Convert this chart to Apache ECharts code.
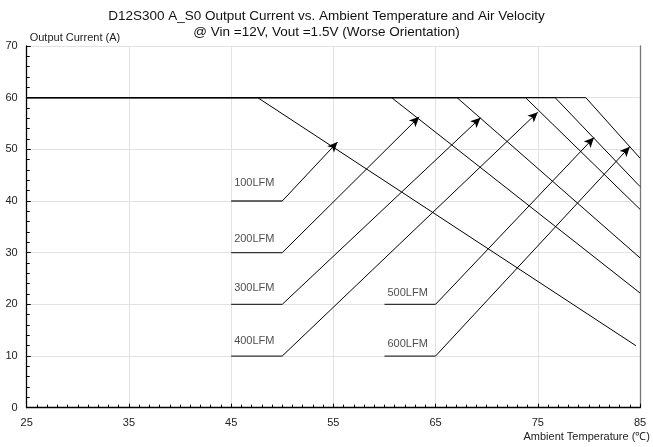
<!DOCTYPE html>
<html>
<head>
<meta charset="utf-8">
<script src="https://cdn.jsdelivr.net/npm/echarts@6/dist/echarts.min.js"></script>
<style>
  html, body { margin: 0; padding: 0; background: #fff; }
  #chart { width: 653px; height: 447px; }
</style>
</head>
<body>
<div id="chart"></div>
<script>
// derating curves: flat at 60 A, then linear drop to the end point
const airflow = ['100LFM', '200LFM', '300LFM', '400LFM', '500LFM', '600LFM'];
const maxCurrent = 60;
const startTemp = 25;
const kneeTemp = [47.6, 60.7, 67.1, 73.8, 76.7, 79.7];
const endTemp = [84.6, 85, 85, 85, 85, 85];
const endCurrent = [12.0, 22.2, 29.0, 38.4, 42.8, 48.3];

// callout tags (label + short horizontal line + arrow to curve)
const tagStartX = [45, 45, 45, 45, 60, 60];
const tagEndX = [50, 50, 50, 50, 65, 65];
const tagY = [40, 30, 20, 10, 20, 10];
const tagTextY = [43.5, 32.6, 23.1, 12.9, 22.2, 12.3];
const arrowTipX = [55.4, 63.4, 69.4, 75.0, 80.5, 84.0];
const arrowTipY = [51.4, 56.3, 56.1, 57.2, 52.3, 50.5];

const font = 'Arial, "Liberation Sans", sans-serif';
const chart = echarts.init(document.getElementById('chart'));

const series = [];
airflow.forEach(function (name, i) {
    series.push({
        name: name,
        type: 'line',
        symbol: 'none',
        silent: true,
        lineStyle: { color: '#000', width: 1 },
        data: [[startTemp, maxCurrent], [kneeTemp[i], maxCurrent], [endTemp[i], endCurrent[i]]]
    });
    series.push({
        type: 'line',
        symbol: 'none',
        silent: true,
        lineStyle: { color: '#333', width: 1.3 },
        data: [[tagStartX[i], tagY[i]], [tagEndX[i], tagY[i]]],
        markLine: {
            silent: true,
            symbol: ['none', 'arrow'],
            symbolSize: [7, 10],
            label: { show: false },
            lineStyle: { color: '#000', width: 1, type: 'solid' },
            data: [[{ coord: [tagEndX[i], tagY[i]] }, { coord: [arrowTipX[i], arrowTipY[i]] }]]
        }
    });
});
series.push({
    type: 'scatter',
    symbolSize: 0,
    silent: true,
    label: {
        show: true,
        position: 'right',
        distance: 3,
        formatter: function (p) { return p.value[2]; },
        color: '#222',
        fontSize: 11,
        fontFamily: font
    },
    data: airflow.map(function (name, i) { return [tagStartX[i], tagTextY[i], name]; })
});

chart.setOption({
    animation: false,
    title: {
        text: 'D12S300 A_S0 Output Current vs. Ambient Temperature and Air Velocity\n@ Vin =12V, Vout =1.5V (Worse Orientation)',
        left: 'center',
        top: 3,
        textStyle: { fontSize: 13.5, fontWeight: 'normal', color: '#111', fontFamily: font, lineHeight: 16 }
    },
    grid: { left: 26.7, right: 11.3, top: 46, bottom: 39.3 },
    xAxis: {
        type: 'value',
        min: 25,
        max: 85,
        interval: 10,
        name: 'Ambient Temperature (℃)',
        nameLocation: 'end',
        nameGap: 10,
        nameTextStyle: { align: 'right', verticalAlign: 'top', padding: [24, 0, 0, 0], fontSize: 11, color: '#222', fontFamily: font },
        axisLine: { lineStyle: { color: '#000', width: 1.3 } },
        axisTick: { inside: true, length: 4, lineStyle: { color: '#000' } },
        minorTick: { show: true, splitNumber: 10, length: 3, lineStyle: { color: '#000' } },
        axisLabel: { fontSize: 11, color: '#222', fontFamily: font, margin: 10 },
        splitLine: { show: true, lineStyle: { color: '#e2e2e2', width: 1 } }
    },
    yAxis: [{
        type: 'value',
        min: 0,
        max: 70,
        interval: 10,
        name: 'Output Current (A)',
        nameLocation: 'end',
        nameGap: 3,
        nameTextStyle: { align: 'left', padding: [0, 0, 0, 3], fontSize: 11, color: '#222', fontFamily: font },
        axisLine: { show: true, lineStyle: { color: '#000', width: 1.3 } },
        axisTick: { inside: true, length: 4, lineStyle: { color: '#000' } },
        minorTick: { show: true, splitNumber: 5, length: 3, lineStyle: { color: '#000' } },
        axisLabel: { fontSize: 11, color: '#222', fontFamily: font, margin: 9 },
        splitLine: { show: true, lineStyle: { color: '#e2e2e2', width: 1 } }
    }, {
        type: 'value',
        position: 'right',
        min: 0,
        max: 70,
        interval: 10,
        axisLine: { show: true, lineStyle: { color: '#777', width: 1.3 } },
        axisTick: { show: false },
        axisLabel: { show: false },
        splitLine: { show: false }
    }],
    series: series
});
</script>
</body>
</html>
